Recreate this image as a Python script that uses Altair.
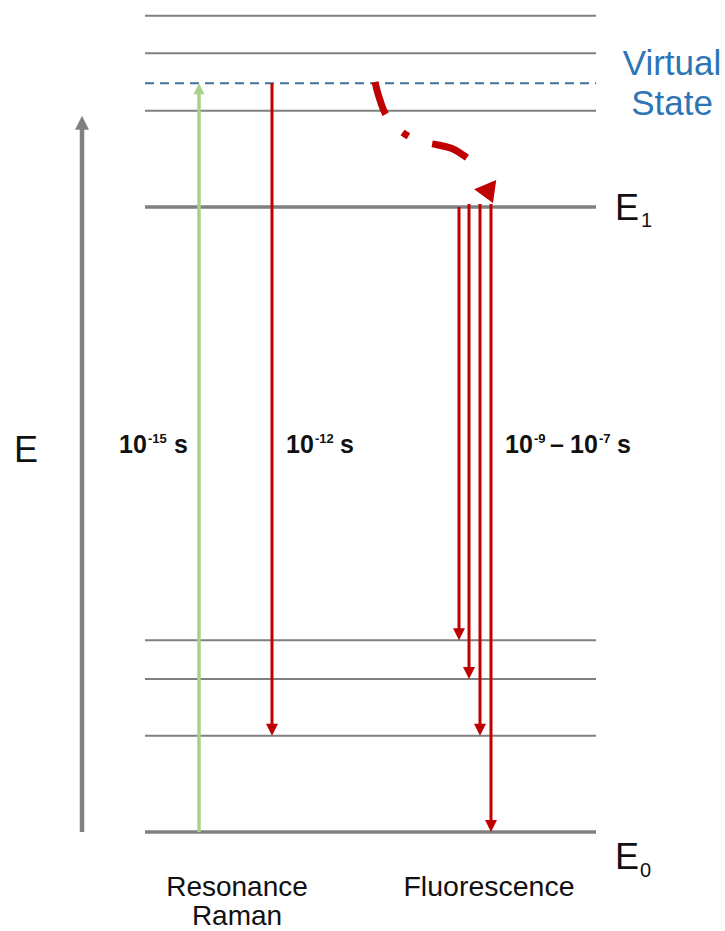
import altair as alt
import pandas as pd

# ---------------- data ----------------
# energy levels (E0 = 0, E1 = 1)
level_E = [1.306, 1.246, 1.154, 0.307, 0.245, 0.154]          # thin vibrational levels
main_E = [1.0, 0.0]                                             # E1, E0
virtual_E = [1.198]                                             # virtual state
level_x0, level_x1 = 145, 596

# transitions
arrow_x = [199, 272, 459, 469, 480, 491]
arrow_from = [0.0, 1.198, 1.0, 1.005, 1.005, 1.005]
arrow_to = [1.198, 0.154, 0.307, 0.245, 0.154, 0.0]
arrow_col = ["#a9d18e", "#c00000", "#c00000", "#c00000", "#c00000", "#c00000"]
arrow_w = [3.5, 3, 3, 3, 3, 3]

# energy axis arrow
eaxis_x = [82]
eaxis_from = [0.0]
eaxis_to = [1.146]

# non-radiative relaxation curve (virtual state -> E1)
curve_x = [375, 379, 385, 395, 408, 423, 438, 453, 466, 474]
curve_E = [1.2, 1.176, 1.1504, 1.1296, 1.1136, 1.104, 1.0992, 1.0928, 1.08, 1.0704]
curve_tip = (493, 1.0064)

# text pieces
bold_text = ["10", "-15", "s", "10", "-12", "s", "10", "-9", "\u2013", "10", "-7", "s"]
bold_x = [119, 148, 174, 286, 315, 340, 505, 534, 550, 570, 599, 617]
bold_E = [0.6064, 0.6224, 0.6064, 0.6064, 0.6224, 0.6064, 0.6064, 0.6224, 0.6064, 0.6064, 0.6224, 0.6064]
bold_size = [25, 13, 25, 25, 13, 25, 25, 13, 25, 25, 13, 25]

left_text = ["E", "E", "1", "E", "0"]
left_x = [14, 615, 641, 615, 640]
left_E = [0.592, 0.9792, 0.968, -0.0592, -0.072]
left_size = [36, 36, 20, 36, 20]

center_text = ["Virtual", "State", "Resonance", "Raman", "Fluorescence"]
center_x = [672, 672, 237, 237, 489]
center_E = [1.2112, 1.1472, -0.1024, -0.1488, -0.1024]
center_size = [35, 35, 28, 28, 28.5]
center_col = ["#2e75b6", "#2e75b6", "#111111", "#111111", "#111111"]

# ---------------- scales ----------------
xs = alt.Scale(domain=[0, 725], nice=False, zero=False)
ys = alt.Scale(domain=[-0.1584, 1.3312], nice=False, zero=False)
X = lambda f: alt.X(f, type="quantitative", scale=xs, axis=None)
Y = lambda f: alt.Y(f, type="quantitative", scale=ys, axis=None)

HEAD = 0.016
FONT = "Liberation Sans"

# levels
thin_df = pd.DataFrame({"E": level_E, "x0": level_x0, "x1": level_x1})
main_df = pd.DataFrame({"E": main_E, "x0": level_x0, "x1": level_x1})
virt_df = pd.DataFrame({"E": virtual_E, "x0": level_x0, "x1": level_x1})

thin = alt.Chart(thin_df).mark_rule(color="#808080", strokeWidth=2).encode(x=X("x0"), x2="x1", y=Y("E"))
main = alt.Chart(main_df).mark_rule(color="#808080", strokeWidth=3.5).encode(x=X("x0"), x2="x1", y=Y("E"))
virt = alt.Chart(virt_df).mark_rule(color="#41719c", strokeWidth=2, strokeDash=[9, 6]).encode(
    x=X("x0"), x2="x1", y=Y("E"))

# arrows
adf = pd.DataFrame({"x": arrow_x, "from": arrow_from, "to": arrow_to, "col": arrow_col, "w": arrow_w})
adf["up"] = adf["to"] > adf["from"]
adf["end"] = adf["to"] - HEAD * adf["up"].map({True: 1, False: -1})

shafts = alt.Chart(adf).mark_rule(strokeCap="butt").encode(
    x=X("x"), y=Y("from"), y2="end",
    color=alt.Color("col:N", scale=None),
    strokeWidth=alt.StrokeWidth("w:Q", scale=None))

down_shape = "M-0.5,-1L0.5,-1L0,0Z"
up_shape = "M-0.5,1L0.5,1L0,0Z"

heads_down = alt.Chart(adf[~adf["up"]]).mark_point(
    shape=down_shape, filled=True, opacity=1, strokeWidth=0, size=576).encode(
    x=X("x"), y=Y("to"), color=alt.Color("col:N", scale=None))
heads_up = alt.Chart(adf[adf["up"]]).mark_point(
    shape=up_shape, filled=True, opacity=1, strokeWidth=0, size=484).encode(
    x=X("x"), y=Y("to"), color=alt.Color("col:N", scale=None))

edf = pd.DataFrame({"x": eaxis_x, "from": eaxis_from, "to": eaxis_to})
edf["end"] = edf["to"] - 0.018
eshaft = alt.Chart(edf).mark_rule(color="#808080", strokeWidth=4.5, strokeCap="butt").encode(
    x=X("x"), y=Y("from"), y2="end")
ehead = alt.Chart(edf).mark_point(shape=up_shape, filled=True, opacity=1, strokeWidth=0,
                                  size=784, color="#808080").encode(x=X("x"), y=Y("to"))

# curved dashed arrow
cdf = pd.DataFrame({"x": curve_x, "E": curve_E, "o": list(range(len(curve_x)))})
curve = alt.Chart(cdf).mark_line(color="#c00000", strokeWidth=7, strokeDash=[34, 25, 7, 25, 38, 40],
                                 interpolate="cardinal", strokeCap="butt").encode(
    x=X("x"), y=Y("E"), order="o:Q")
tdf = pd.DataFrame({"x": [curve_tip[0]], "E": [curve_tip[1]]})
ctip = alt.Chart(tdf).mark_point(shape="M-0.6,-1L0.6,-1L0,0Z", filled=True, opacity=1,
                                 strokeWidth=0, size=1600, angle=337, color="#c00000").encode(
    x=X("x"), y=Y("E"))

# texts
bdf = pd.DataFrame({"t": bold_text, "x": bold_x, "E": bold_E, "s": bold_size})
btxt = alt.Chart(bdf).mark_text(align="left", baseline="alphabetic", font=FONT,
                                fontWeight="bold", color="#111111").encode(
    x=X("x"), y=Y("E"), text="t:N", size=alt.Size("s:Q", scale=None))
ldf = pd.DataFrame({"t": left_text, "x": left_x, "E": left_E, "s": left_size})
ltxt = alt.Chart(ldf).mark_text(align="left", baseline="alphabetic", font=FONT,
                                color="#111111").encode(
    x=X("x"), y=Y("E"), text="t:N", size=alt.Size("s:Q", scale=None))
ctdf = pd.DataFrame({"t": center_text, "x": center_x, "E": center_E, "s": center_size, "c": center_col})
ctxt = alt.Chart(ctdf).mark_text(align="center", baseline="alphabetic", font=FONT).encode(
    x=X("x"), y=Y("E"), text="t:N", size=alt.Size("s:Q", scale=None),
    color=alt.Color("c:N", scale=None))

chart = alt.layer(
    thin, main, virt, eshaft, ehead, shafts, heads_down, heads_up, curve, ctip, btxt, ltxt, ctxt
).properties(
    width=725, height=931, padding=0, autosize=alt.AutoSizeParams(type="none"),
    background="white"
).configure_view(strokeWidth=0)

chart.save("out.html", embed_options={"renderer": "svg", "actions": False})
